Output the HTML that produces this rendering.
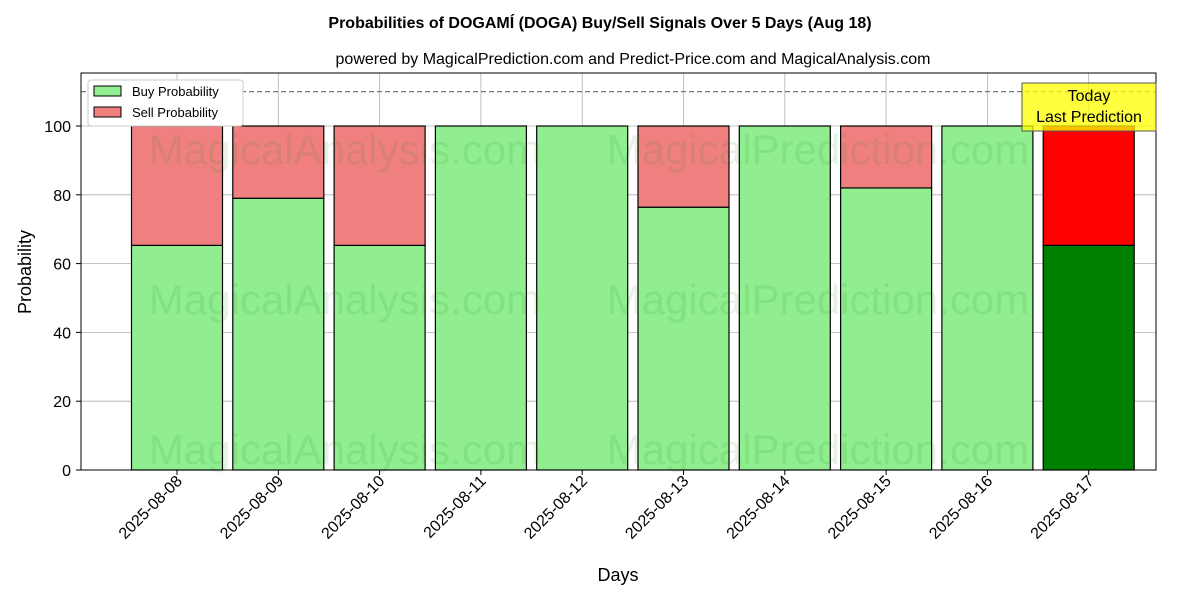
<!DOCTYPE html>
<html><head><meta charset="utf-8"><style>body{margin:0;background:#fff}svg{font-family:"Liberation Sans","DejaVu Sans",sans-serif}</style></head>
<body>
<svg id="c" width="1200" height="600" viewBox="0 0 1200 600"></svg>
<script>
const categories=["2025-08-08","2025-08-09","2025-08-10","2025-08-11","2025-08-12","2025-08-13","2025-08-14","2025-08-15","2025-08-16","2025-08-17"];
const buyValues=[65.3,79.0,65.3,100,100,76.4,100,82.0,100,65.3];
const sellValues=[34.7,21.0,34.7,0,0,23.6,0,18.0,0,34.7];
const yTicks=[0,20,40,60,80,100];
const L=81,R=1156,T=73,B=470;
const xs=i=>177+i*101.3;
const ys=v=>B-v*3.44;
const NS="http://www.w3.org/2000/svg";
const svg=document.getElementById('c');
function mk(t,a,txt){const e=document.createElementNS(NS,t);for(const k in a)e.setAttribute(k,a[k]);if(txt!==undefined)e.textContent=txt;svg.appendChild(e);return e;}
let e;
e=mk('text',{x:600,y:28,'text-anchor':'middle','font-size':16,'font-weight':'bold'},'Probabilities of DOGAMÍ (DOGA) Buy/Sell Signals Over 5 Days (Aug 18)');

e=mk('text',{x:633,y:64,'text-anchor':'middle','font-size':16},'powered by MagicalPrediction.com and Predict-Price.com and MagicalAnalysis.com');

yTicks.forEach(v=>{e=mk('line',{x1:L,x2:R,y1:ys(v),y2:ys(v),stroke:'#b0b0b0','stroke-width':0.8});

e=mk('text',{x:L-10,y:ys(v)+6,'text-anchor':'end','font-size':16},v);

mk('line',{x1:L-5,x2:L,y1:ys(v),y2:ys(v),stroke:'#000'});});
categories.forEach((c,i)=>{e=mk('line',{x1:xs(i),x2:xs(i),y1:T,y2:B,stroke:'#b0b0b0','stroke-width':0.8});
});
categories.forEach((c,i)=>{const last=i===categories.length-1;const x=xs(i)-45.5;
e=mk('rect',{x:x,y:ys(buyValues[i]),width:91,height:ys(0)-ys(buyValues[i]),fill:last?'#008000':'#90ee90',stroke:'#000','stroke-width':1.2});

if(sellValues[i]>0){e=mk('rect',{x:x,y:ys(buyValues[i]+sellValues[i]),width:91,height:ys(buyValues[i])-ys(buyValues[i]+sellValues[i]),fill:last?'#ff0000':'#f08080',stroke:'#000','stroke-width':1.2});
}
e=mk('text',{x:0,y:0,'text-anchor':'end','font-size':16,transform:`translate(${xs(i)+6},${B+12}) rotate(-45)`},c);

mk('line',{x1:xs(i),x2:xs(i),y1:B,y2:B+5,stroke:'#000'});});
[[345,150,'MagicalAnalysis.com'],[818,150,'MagicalPrediction.com'],[345,300,'MagicalAnalysis.com'],[818,300,'MagicalPrediction.com'],[345,450,'MagicalAnalysis.com'],[818,450,'MagicalPrediction.com']].forEach(w=>{
e=mk('text',{x:w[0],y:w[1]+14,'text-anchor':'middle','font-size':42,fill:'rgba(0,128,0,0.1)'},w[2]);
});
e=mk('line',{x1:L,x2:R,y1:ys(110),y2:ys(110),stroke:'#777','stroke-dasharray':'5,3','stroke-width':1.2});

e=mk('rect',{x:L,y:T,width:R-L,height:B-T,fill:'none',stroke:'#000','stroke-width':1});

e=mk('rect',{x:1022,y:83,width:134,height:48,fill:'rgba(255,255,0,0.75)',stroke:'#555','stroke-width':1});

mk('text',{x:1089,y:101,'text-anchor':'middle','font-size':16},'Today');
mk('text',{x:1089,y:122,'text-anchor':'middle','font-size':16},'Last Prediction');
e=mk('text',{x:618,y:581,'text-anchor':'middle','font-size':18},'Days');

e=mk('text',{x:0,y:0,'text-anchor':'middle','font-size':18,transform:'translate(31,272) rotate(-90)'},'Probability');

e=mk('rect',{x:88,y:80,width:155,height:46,fill:'#fff',stroke:'#ccc',rx:3});

e=mk('rect',{x:94,y:86,width:27,height:10,fill:'#90ee90',stroke:'#000'});

mk('text',{x:132,y:96,'font-size':13},'Buy Probability');
e=mk('rect',{x:94,y:107,width:27,height:10,fill:'#f08080',stroke:'#000'});

mk('text',{x:132,y:117,'font-size':13},'Sell Probability');
</script>
</body></html>
